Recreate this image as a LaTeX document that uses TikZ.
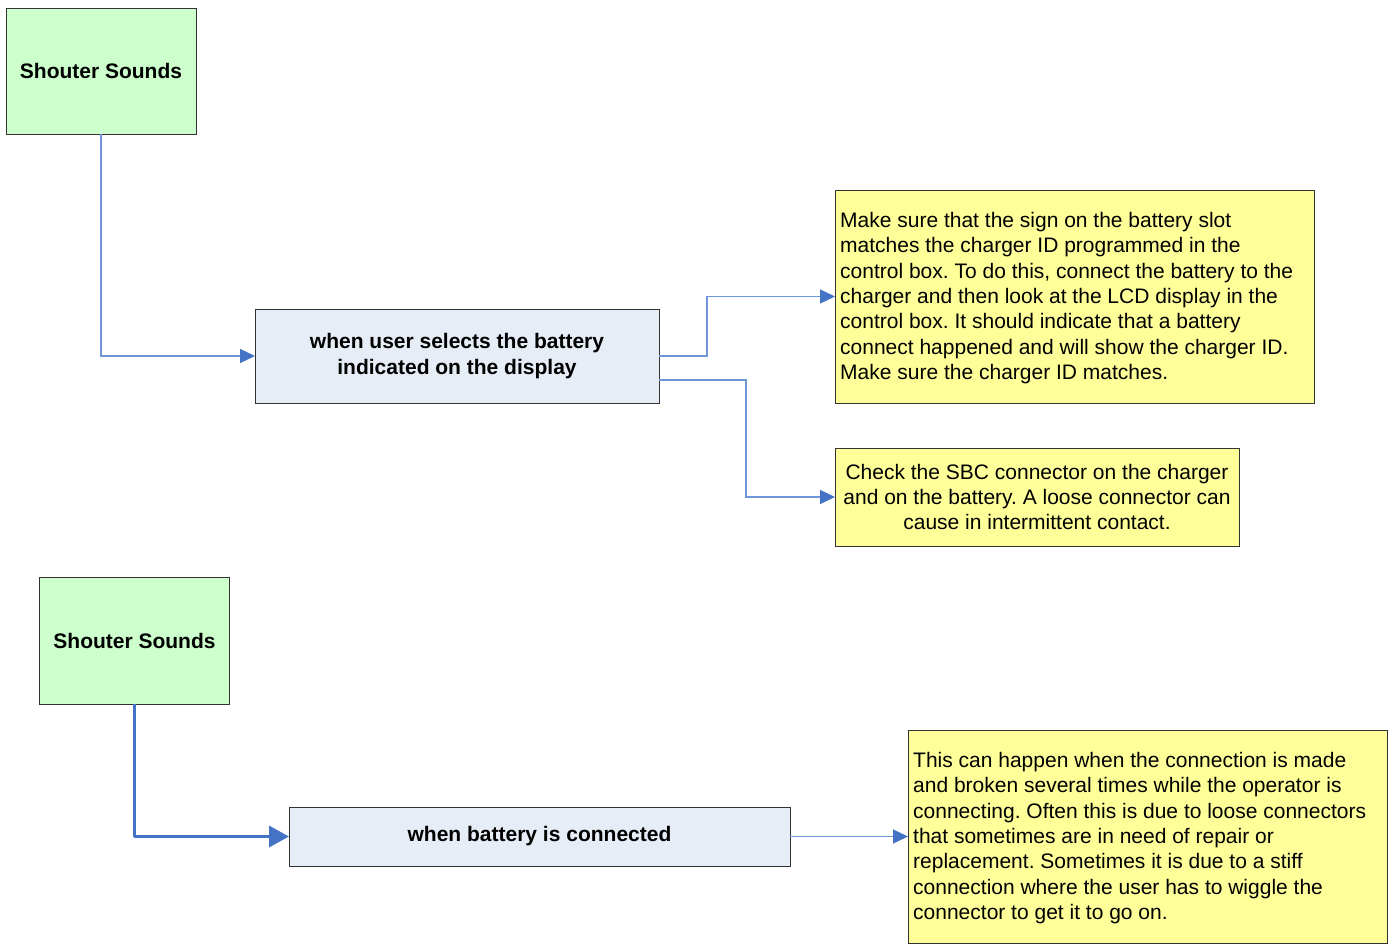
\documentclass[tikz,border=0pt]{standalone}
\usepackage{fontspec}
\setmainfont{Liberation Sans}
\usetikzlibrary{arrows.meta}
\frenchspacing
\definecolor{startgreen}{HTML}{CCFFCC}
\definecolor{condblue}{HTML}{E7EDF7}
\definecolor{notebox}{HTML}{FFFF99}
\definecolor{linkthin}{HTML}{6E96D8}
\definecolor{linkthick}{HTML}{4472C4}
\newcommand{\boxfont}{\fontsize{21}{25.4}\selectfont}
\begin{document}
\begin{tikzpicture}[x=1pt,y=-1pt,
  box/.style={draw=black!80, line width=0.9pt, inner sep=0pt, outer sep=0pt},
  startbox/.style={box, fill=startgreen, font=\boxfont\bfseries, align=center},
  condbox/.style={box, fill=condblue, font=\boxfont\bfseries, align=center},
  notebox/.style={box, fill=notebox, font=\boxfont},
  notetext/.style={anchor=west, font=\boxfont, align=left, inner sep=0pt},
  thinlink/.style={draw=linkthin, line width=1.2pt, -{Triangle[length=15pt,width=14pt,color=linkthick]}},
  thicklink/.style={draw=linkthick, line width=3.5pt, line join=round, -{Triangle[length=20pt,width=21pt]}}
]
\useasboundingbox[fill=white] (0,0) rectangle (1392,944);

% first diagram
\node[startbox, minimum width=190pt, minimum height=126pt] (s1) at (101,71) {Shouter Sounds};
\node[condbox, minimum width=404pt, minimum height=94pt] (c1) at (457,356)
  {when user selects the battery\\indicated on the display};
\node[notebox, minimum width=479pt, minimum height=213pt] (n1) at (1074.5,296.5) {};
\node[notetext] (t1) at (840,298)
  {Make sure that the sign on the battery slot\\
   matches the charger ID programmed in the\\
   control box. To do this, connect the battery to the\\
   charger and then look at the LCD display in the\\
   control box. It should indicate that a battery\\
   connect happened and will show the charger ID.\\
   Make sure the charger ID matches.};
\node[notebox, minimum width=404pt, minimum height=98pt, align=center] (n2) at (1037,497)
  {Check the SBC connector on the charger\\
   and on the battery. A loose connector can\\
   cause in intermittent contact.};

\draw[thinlink] (s1.south) |- (c1.west);
\draw[thinlink] (c1.east) -- (707,356) |- (n1.west);
\draw[thinlink] ([yshift=-24pt]c1.east) -- (746,380) |- (n2.west);

% second diagram
\node[startbox, minimum width=190pt, minimum height=127pt] (s2) at (134.5,640.5) {Shouter Sounds};
\node[condbox, minimum width=501pt, minimum height=59pt] (c2) at (539.5,836.5) {when battery is connected};
\node[notebox, minimum width=479pt, minimum height=213pt] (n3) at (1147.5,836.5) {};
\node[notetext] (t3) at (913,838)
  {This can happen when the connection is made\\
   and broken several times while the operator is\\
   connecting. Often this is due to loose connectors\\
   that sometimes are in need of repair or\\
   replacement. Sometimes it is due to a stiff\\
   connection where the user has to wiggle the\\
   connector to get it to go on.};

\draw[thicklink] (s2.south) |- (c2.west);
\draw[thinlink] (c2.east) -- (n3.west);
\end{tikzpicture}
\end{document}
